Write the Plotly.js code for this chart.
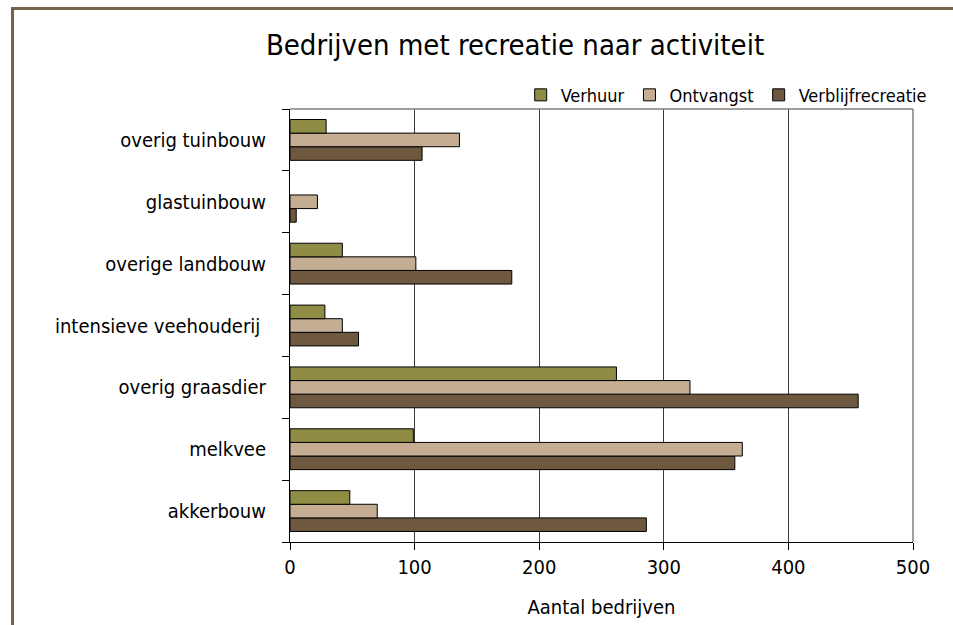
<!DOCTYPE html>
<html>
<head>
<meta charset="utf-8">
<script src="https://cdn.plot.ly/plotly-3.0.1.min.js"></script>
<style>
  html, body { margin: 0; padding: 0; background: #fff; }
  #wrap { position: relative; width: 953px; height: 625px; }
  #chart { width: 953px; height: 625px; }
  #frame { position: absolute; left: 11px; top: 7px; right: 0; bottom: -10px;
           border-top: 3px solid #75624a; border-left: 3px solid #75624a; pointer-events: none; }
</style>
</head>
<body>
<div id="wrap">
  <div id="chart"></div>
  <div id="frame"></div>
</div>
<script>
const categories = ['akkerbouw', 'melkvee', 'overig graasdier', 'intensieve veehouderij ',
                    'overige landbouw', 'glastuinbouw', 'overig tuinbouw'];
const verhuur = [48, 99, 262, 28, 42, null, 29];
const ontvangst = [70, 363, 321, 42, 101, 22, 136];
const verblijfrecreatie = [286, 357, 456, 55, 178, 5, 106];
const seriesNames = ['Verhuur', 'Ontvangst', 'Verblijfrecreatie'];
const colors = ['#8f8c45', '#c4ad92', '#6e5840'];
const FONT = '"Liberation Sans Narrow", "DejaVu Sans Condensed", Arial, sans-serif';

function mk(name, vals, color) {
  return {
    type: 'bar', orientation: 'h', name: name,
    y: categories, x: vals,
    marker: { color: color, line: { color: '#000', width: 1 } },
    hoverinfo: 'x+name'
  };
}

const data = [
  mk(seriesNames[2], verblijfrecreatie, colors[2]),
  mk(seriesNames[1], ontvangst, colors[1]),
  mk(seriesNames[0], verhuur, colors[0])
];

const layout = {
  width: 953, height: 625,
  margin: { l: 290, r: 40, t: 109, b: 83 },
  paper_bgcolor: '#fff', plot_bgcolor: '#fff',
  font: { family: FONT, color: '#000', size: 20 },
  title: { text: 'Bedrijven met recreatie naar activiteit', font: { family: FONT, size: 29, color: '#000' },
           x: 515 / 953, xanchor: 'center', y: 1 - 45 / 625, yanchor: 'middle' },
  barmode: 'group', bargap: 0.34, bargroupgap: 0,
  showlegend: true,
  legend: { orientation: 'h', traceorder: 'reversed', x: 1.03, xanchor: 'right', y: 1.032, yanchor: 'middle',
            font: { family: FONT, size: 18, color: '#000' }, bgcolor: 'rgba(0,0,0,0)' },
  xaxis: {
    range: [0, 500], dtick: 100, tick0: 0, fixedrange: true,
    showgrid: true, gridcolor: '#3a3a3a', gridwidth: 1, zeroline: false,
    showline: true, linecolor: '#000', linewidth: 1,
    ticks: 'outside', ticklen: 7, tickcolor: '#000',
    tickfont: { family: FONT, size: 20, color: '#000' },
    title: { text: 'Aantal bedrijven', font: { family: FONT, size: 20, color: '#000' }, standoff: 21 }
  },
  yaxis: {
    type: 'category', categoryorder: 'array', categoryarray: categories, fixedrange: true,
    showgrid: false, zeroline: false,
    showline: true, linecolor: '#000', linewidth: 1,
    ticks: 'outside', tickson: 'boundaries', ticklen: 7, tickcolor: '#000',
    tickfont: { family: FONT, size: 20, color: '#000' },
    ticklabelstandoff: 19
  },
  shapes: [
    { type: 'line', xref: 'paper', yref: 'paper', x0: 0, x1: 1, y0: 1, y1: 1, line: { color: '#7f7f7f', width: 1.5 } },
    { type: 'line', xref: 'paper', yref: 'paper', x0: 1, x1: 1, y0: 0, y1: 1, line: { color: '#7f7f7f', width: 1.5 } }
  ]
};

Plotly.newPlot('chart', data, layout, { displayModeBar: false, staticPlot: true });
</script>
</body>
</html>
